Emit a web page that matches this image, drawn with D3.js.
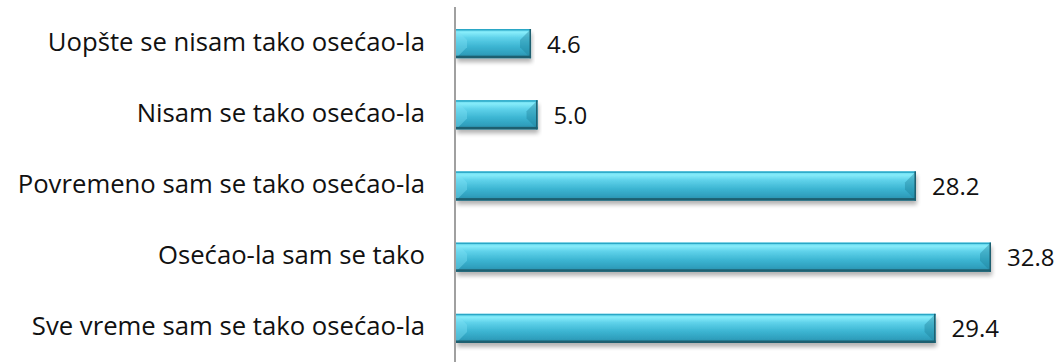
<!DOCTYPE html>
<html>
<head>
<meta charset="utf-8">
<script src="https://cdn.jsdelivr.net/npm/d3@7"></script>
<style>
  html, body { margin: 0; padding: 0; background: #fff; }
  svg { display: block; }
</style>
</head>
<body>
<script>
// Response categories (top to bottom) and their shares in percent
const categories = [
  "Uopšte se nisam tako osećao-la",
  "Nisam se tako osećao-la",
  "Povremeno sam se tako osećao-la",
  "Osećao-la sam se tako",
  "Sve vreme sam se tako osećao-la"
];
const values = [4.6, 5.0, 28.2, 32.8, 29.4];

const W = 1061, H = 362;
const axisX = 455;
const font = "'Open Sans', 'Noto Sans', sans-serif";

const svg = d3.select("body").append("svg")
  .attr("width", W).attr("height", H);

const defs = svg.append("defs");

// Vertical gradient giving the bars their glossy cylinder look
const grad = defs.append("linearGradient")
  .attr("id", "barFill").attr("x1", 0).attr("y1", 0).attr("x2", 0).attr("y2", 1);
[
  [0, "#5fd3ea"], [0.12, "#86ecfa"], [0.3, "#5fd2ea"],
  [0.6, "#3cb5d2"], [0.85, "#2f9fbd"], [1, "#2a8ba6"]
].forEach(([o, c]) => grad.append("stop").attr("offset", o).attr("stop-color", c));

const shadow = defs.append("filter").attr("id", "shadow")
  .attr("x", "-5%").attr("y", "-20%").attr("width", "110%").attr("height", "160%");
shadow.append("feGaussianBlur").attr("in", "SourceAlpha").attr("stdDeviation", 2.2);
shadow.append("feOffset").attr("dx", 1).attr("dy", 4).attr("result", "b");
shadow.append("feComponentTransfer").append("feFuncA").attr("type", "linear").attr("slope", 0.3);
const merge = shadow.append("feMerge");
merge.append("feMergeNode");
merge.append("feMergeNode").attr("in", "SourceGraphic");

const x = d3.scaleLinear().domain([0, 32.8]).range([axisX + 1, 991]);
const y = d3.scaleBand().domain(categories).range([8, 364])
  .paddingInner(0.59).paddingOuter(0.295);

const bh = y.bandwidth();
const bev = 11;

const bars = svg.append("g").selectAll("g.bar")
  .data(categories.map((c, i) => ({ c, v: values[i] })))
  .join("g").attr("class", "bar")
  .attr("transform", d => `translate(0,${y(d.c)})`);

bars.append("rect")
  .attr("x", x(0)).attr("y", 0)
  .attr("width", d => x(d.v) - x(0)).attr("height", bh)
  .attr("fill", "url(#barFill)")
  .attr("filter", "url(#shadow)");

// bevelled ends: lighter left corner, darker right corner
bars.append("path")
  .attr("d", d => `M${x(0)},0 L${x(0) + bev},${bev} L${x(0) + bev},${bh - bev} L${x(0)},${bh} Z`)
  .attr("fill", "#7fe2f4").attr("opacity", 0.4);
bars.append("path")
  .attr("d", d => `M${x(d.v)},0 L${x(d.v) - bev},${bev} L${x(d.v) - bev},${bh - bev} L${x(d.v)},${bh} Z`)
  .attr("fill", "#1f7f98").attr("opacity", 0.4);
// top rim and bottom dark rim
bars.append("rect")
  .attr("x", x(0)).attr("y", 0)
  .attr("width", d => x(d.v) - x(0)).attr("height", 1.5)
  .attr("fill", "#2aa7c6");
bars.append("rect")
  .attr("x", x(0)).attr("y", bh - 2.5)
  .attr("width", d => x(d.v) - x(0)).attr("height", 2.5)
  .attr("fill", "#1d5f70");
bars.append("rect")
  .attr("x", d => x(d.v) - 1.5).attr("y", 0)
  .attr("width", 1.5).attr("height", bh)
  .attr("fill", "#1d5f70");

// value labels
bars.append("text")
  .attr("x", d => x(d.v) + 16).attr("y", bh / 2 + 9)
  .attr("font-family", font)
  .attr("font-size", 24).attr("fill", "#111")
  .text(d => d.v.toFixed(1));

// category axis line and labels
svg.append("line")
  .attr("x1", axisX).attr("x2", axisX).attr("y1", 7).attr("y2", H)
  .attr("stroke", "#a0a0a0").attr("stroke-width", 2);

svg.append("g").selectAll("text")
  .data(categories).join("text")
  .attr("x", 425).attr("y", d => y(d) + bh / 2 + 7)
  .attr("text-anchor", "end")
  .attr("font-family", font)
  .attr("font-size", 25.7).attr("fill", "#111")
  .text(d => d);
</script>
</body>
</html>
